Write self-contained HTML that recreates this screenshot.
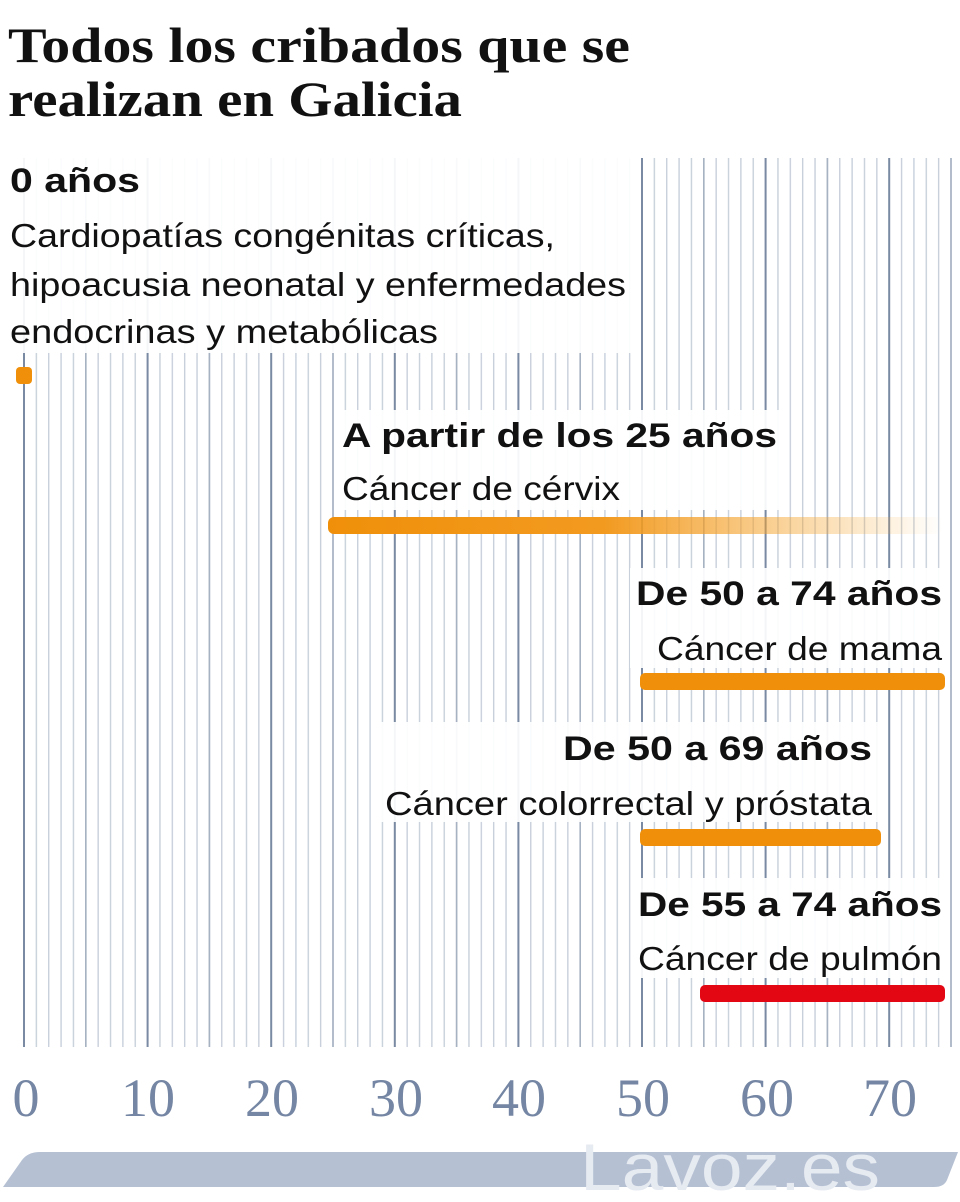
<!DOCTYPE html>
<html><head><meta charset="utf-8"><style>
html,body{margin:0;padding:0;background:#fff;}
svg{display:block}
.b{font-family:"Liberation Sans",sans-serif;font-weight:bold;font-size:34px;fill:#111}
.l{font-family:"Liberation Sans",sans-serif;font-size:33px;fill:#111}
.t{font-family:"Liberation Serif",serif;font-weight:bold;font-size:50px;fill:#111}
.n{font-family:"Liberation Serif",serif;font-size:54px;fill:#7486a3}
</style></head><body>
<svg width="960" height="1202" viewBox="0 0 960 1202" xmlns="http://www.w3.org/2000/svg">
<defs>
<linearGradient id="g" x1="0" x2="1" y1="0" y2="0">
<stop offset="0" stop-color="#f0900a"/><stop offset="0.45" stop-color="#f29a20"/><stop offset="1" stop-color="#f6a830" stop-opacity="0"/>
</linearGradient>
<pattern id="p" patternUnits="userSpaceOnUse" x="23.3" y="0" width="12.36" height="10">
<rect x="0" y="0" width="1.4" height="10" fill="#c8d0db"/>
</pattern>
</defs>
<rect x="23" y="158" width="930" height="889" fill="url(#p)"/>
<g stroke="#a6b1c2" stroke-width="1.6">
<line x1="85.8" x2="85.8" y1="158" y2="1047"/><line x1="209.4" x2="209.4" y1="158" y2="1047"/>
<line x1="333" x2="333" y1="158" y2="1047"/><line x1="456.6" x2="456.6" y1="158" y2="1047"/>
<line x1="580.2" x2="580.2" y1="158" y2="1047"/><line x1="703.8" x2="703.8" y1="158" y2="1047"/>
<line x1="827.4" x2="827.4" y1="158" y2="1047"/><line x1="951" x2="951" y1="158" y2="1047"/>
</g>
<g stroke="#7a8aa3" stroke-width="2">
<line x1="24" x2="24" y1="158" y2="1047"/><line x1="147.6" x2="147.6" y1="158" y2="1047"/>
<line x1="271.2" x2="271.2" y1="158" y2="1047"/><line x1="394.8" x2="394.8" y1="158" y2="1047"/>
<line x1="518.4" x2="518.4" y1="158" y2="1047"/><line x1="642" x2="642" y1="158" y2="1047"/>
<line x1="765.6" x2="765.6" y1="158" y2="1047"/><line x1="889.2" x2="889.2" y1="158" y2="1047"/>
</g>
<g fill="#fff" opacity="0.92">
<rect x="0" y="158" width="640" height="195"/>
<rect x="336" y="410" width="450" height="100"/>
<rect x="630" y="568" width="318" height="100"/>
<rect x="378" y="722" width="500" height="100"/>
<rect x="632" y="878" width="316" height="100"/>
</g>
<text class="t" x="8" y="62" textLength="622" lengthAdjust="spacingAndGlyphs">Todos los cribados que se</text>
<text class="t" x="8" y="116" textLength="454" lengthAdjust="spacingAndGlyphs">realizan en Galicia</text>
<text class="b" x="10" y="192" textLength="130" lengthAdjust="spacingAndGlyphs">0 años</text>
<text class="l" x="10" y="247" textLength="545" lengthAdjust="spacingAndGlyphs">Cardiopatías congénitas críticas,</text>
<text class="l" x="10" y="296" textLength="616" lengthAdjust="spacingAndGlyphs">hipoacusia neonatal y enfermedades</text>
<text class="l" x="10" y="343" textLength="428" lengthAdjust="spacingAndGlyphs">endocrinas y metabólicas</text>
<text class="b" x="342" y="447" textLength="435" lengthAdjust="spacingAndGlyphs">A partir de los 25 años</text>
<text class="l" x="342" y="500" textLength="278" lengthAdjust="spacingAndGlyphs">Cáncer de cérvix</text>
<text class="b" x="636" y="605" textLength="306" lengthAdjust="spacingAndGlyphs">De 50 a 74 años</text>
<text class="l" x="657" y="660" textLength="285" lengthAdjust="spacingAndGlyphs">Cáncer de mama</text>
<text class="b" x="563" y="760" textLength="309" lengthAdjust="spacingAndGlyphs">De 50 a 69 años</text>
<text class="l" x="385" y="815" textLength="487" lengthAdjust="spacingAndGlyphs">Cáncer colorrectal y próstata</text>
<text class="b" x="638" y="916" textLength="304" lengthAdjust="spacingAndGlyphs">De 55 a 74 años</text>
<text class="l" x="638" y="970" textLength="304" lengthAdjust="spacingAndGlyphs">Cáncer de pulmón</text>
<rect x="16" y="367" width="16" height="17" rx="4" fill="#f0900a"/>
<rect x="328" y="517" width="615" height="17" rx="6" fill="url(#g)"/>
<rect x="640" y="673" width="305" height="17" rx="5" fill="#f0900a"/>
<rect x="640" y="829" width="241" height="17" rx="5" fill="#f0900a"/>
<rect x="700" y="985" width="245" height="17" rx="5" fill="#e30613"/>
<g class="n" text-anchor="middle">
<text x="26" y="1116">0</text><text x="148" y="1116">10</text><text x="272" y="1116">20</text>
<text x="396" y="1116">30</text><text x="519" y="1116">40</text><text x="643" y="1116">50</text>
<text x="767" y="1116">60</text><text x="890" y="1116">70</text>
</g>
<path d="M3 1187 L22 1160 Q28 1152 40 1152 L958 1152 L947 1180 Q944 1187 934 1187 Z" fill="#b5c0d3"/>
<text x="580" y="1190" textLength="300" lengthAdjust="spacingAndGlyphs" font-family="Liberation Sans,sans-serif" font-size="66" fill="#e6eaf1">Lavoz.es</text>
</svg>
</body></html>
